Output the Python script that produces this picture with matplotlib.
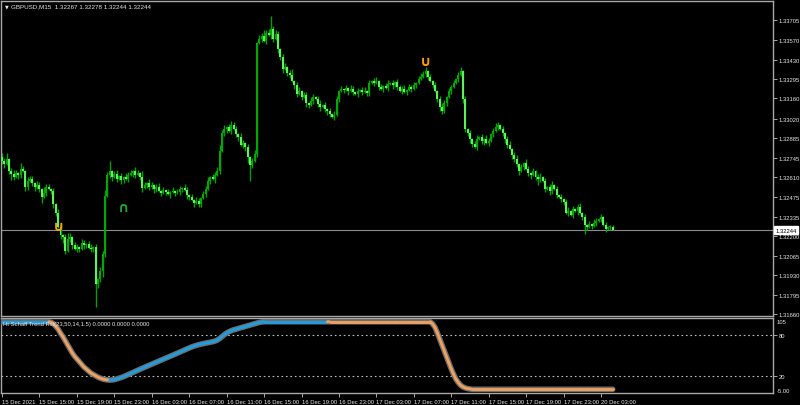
"""GBPUSD M15 chart with Schaff Trend RSI sub-window (MT4 style)."""
import matplotlib
matplotlib.use("Agg")
import matplotlib.pyplot as plt
import matplotlib.transforms as mtransforms
from matplotlib.collections import LineCollection
import numpy as np

# ── Data ──────────────────────────────────────────────────────────────────
first_open = 1.32750
close = [
    1.32725, 1.32704, 1.32738, 1.32655, 1.32634, 1.32613, 1.32641, 1.32627, 1.32669, 1.32655,
    1.32543, 1.32585, 1.32599, 1.32571, 1.32543, 1.32557, 1.32530, 1.32474, 1.32502, 1.32543,
    1.32530, 1.32516, 1.32425, 1.32363, 1.32265, 1.32209, 1.32196, 1.32098, 1.32182, 1.32196,
    1.32140, 1.32112, 1.32126, 1.32112, 1.32154, 1.32140, 1.32147, 1.32119, 1.32112, 1.32126,
    1.31868, 1.31903, 1.31959, 1.32077, 1.32481, 1.32627, 1.32655, 1.32613, 1.32634, 1.32599,
    1.32620, 1.32592, 1.32613, 1.32599, 1.32627, 1.32641, 1.32655, 1.32627, 1.32641, 1.32613,
    1.32537, 1.32557, 1.32571, 1.32543, 1.32557, 1.32530, 1.32543, 1.32516, 1.32502, 1.32523,
    1.32509, 1.32495, 1.32509, 1.32516, 1.32502, 1.32509, 1.32530, 1.32537, 1.32523, 1.32488,
    1.32474, 1.32453, 1.32432, 1.32446, 1.32425, 1.32467, 1.32495, 1.32530, 1.32585, 1.32613,
    1.32599, 1.32627, 1.32655, 1.32794, 1.32919, 1.32947, 1.32961, 1.32933, 1.32975, 1.32947,
    1.32912, 1.32892, 1.32836, 1.32850, 1.32822, 1.32752, 1.32697, 1.32725, 1.32773, 1.33546,
    1.33574, 1.33595, 1.33560, 1.33615, 1.33601, 1.33643, 1.33574, 1.33608, 1.33504, 1.33448,
    1.33365, 1.33379, 1.33337, 1.33323, 1.33281, 1.33253, 1.33191, 1.33212, 1.33170, 1.33184,
    1.33128, 1.33114, 1.33142, 1.33170, 1.33156, 1.33121, 1.33100, 1.33114, 1.33086, 1.33072,
    1.33052, 1.33031, 1.33045, 1.33156, 1.33212, 1.33226, 1.33219, 1.33233, 1.33212, 1.33226,
    1.33205, 1.33191, 1.33212, 1.33219, 1.33205, 1.33212, 1.33198, 1.33267, 1.33281, 1.33267,
    1.33281, 1.33240, 1.33226, 1.33246, 1.33233, 1.33260, 1.33267, 1.33253, 1.33274, 1.33240,
    1.33212, 1.33226, 1.33205, 1.33219, 1.33240, 1.33226, 1.33253, 1.33267, 1.33295, 1.33309,
    1.33330, 1.33351, 1.33309, 1.33281, 1.33253, 1.33212, 1.33156, 1.33100, 1.33072, 1.33128,
    1.33170, 1.33212, 1.33240, 1.33267, 1.33295, 1.33323, 1.33351, 1.33156, 1.32947, 1.32919,
    1.32878, 1.32843, 1.32822, 1.32878, 1.32892, 1.32864, 1.32878, 1.32850, 1.32864, 1.32912,
    1.32933, 1.32961, 1.32975, 1.32947, 1.32919, 1.32878, 1.32836, 1.32808, 1.32766, 1.32738,
    1.32704, 1.32655, 1.32683, 1.32711, 1.32669, 1.32641, 1.32627, 1.32655, 1.32613, 1.32599,
    1.32613, 1.32585, 1.32530, 1.32543, 1.32516, 1.32557, 1.32530, 1.32488, 1.32474, 1.32460,
    1.32439, 1.32363, 1.32377, 1.32349, 1.32390, 1.32377, 1.32404, 1.32363, 1.32335, 1.32279,
    1.32265, 1.32286, 1.32272, 1.32293, 1.32307, 1.32321, 1.32335, 1.32279, 1.32251, 1.32265,
    1.32267, 1.32244,
]
# wick length beyond the body, in pips
wick_up = [
    3, 2, 4, 1, 2, 3, 2, 1, 4, 2, 1, 3, 2, 2, 1, 3, 2, 1, 4, 2,
    2, 1, 2, 1, 3, 2, 1, 2, 4, 3, 1, 2, 2, 1, 3, 2, 1, 2, 3, 1,
    2, 1, 3, 2, 4, 2, 7, 1, 2, 3, 1, 2, 1, 3, 2, 2, 1, 3, 2, 1,
    4, 2, 1, 3, 2, 1, 2, 3, 1, 2, 1, 2, 1, 3, 1, 2, 2, 1, 3, 2,
    1, 2, 1, 3, 2, 1, 2, 2, 3, 1, 2, 2, 3, 4, 2, 3, 1, 2, 3, 2,
    2, 1, 3, 2, 1, 2, 1, 2, 3, 1, 3, 2, 4, 2, 3, 9, 2, 3, 2, 1,
    2, 3, 1, 2, 4, 1, 2, 3, 1, 2, 2, 1, 3, 2, 1, 2, 3, 1, 2, 1,
    2, 1, 3, 2, 1, 2, 1, 2, 1, 3, 2, 1, 2, 1, 2, 3, 1, 2, 1, 2,
    3, 1, 2, 1, 2, 3, 1, 2, 1, 2, 1, 2, 3, 1, 2, 1, 2, 1, 2, 3,
    2, 3, 1, 2, 1, 2, 1, 2, 3, 2, 1, 2, 1, 2, 1, 2, 3, 1, 2, 1,
    2, 1, 2, 3, 1, 2, 1, 3, 2, 1, 2, 3, 2, 1, 2, 1, 2, 3, 1, 2,
    3, 1, 2, 1, 3, 2, 1, 2, 1, 2, 3, 1, 2, 1, 2, 3, 1, 2, 1, 2,
    1, 2, 3, 1, 2, 1, 2, 3, 1, 2, 1, 2, 1, 3, 2, 1, 2, 1, 2, 1, 1, 1.1,
]
wick_dn = [
    2, 3, 1, 2, 4, 2, 1, 3, 2, 1, 3, 2, 1, 2, 3, 1, 2, 4, 1, 2,
    1, 2, 3, 2, 1, 3, 4, 2, 1, 2, 3, 1, 2, 2, 1, 3, 2, 1, 2, 2,
    16, 3, 2, 4, 2, 1, 2, 3, 1, 2, 1, 3, 2, 1, 2, 1, 3, 2, 1, 2,
    3, 1, 2, 2, 1, 3, 2, 1, 2, 1, 2, 1, 3, 1, 2, 1, 2, 2, 1, 3,
    2, 1, 3, 1, 2, 2, 1, 2, 1, 2, 1, 3, 1, 2, 1, 2, 3, 1, 2, 1,
    2, 3, 1, 2, 3, 4, 11, 2, 1, 2, 1, 2, 1, 2, 1, 3, 2, 1, 3, 2,
    3, 1, 2, 2, 1, 3, 2, 1, 2, 1, 3, 2, 1, 2, 1, 2, 3, 1, 2, 3,
    2, 1, 2, 1, 2, 1, 2, 1, 3, 1, 2, 1, 2, 1, 2, 1, 2, 2, 1, 2,
    1, 2, 1, 2, 1, 2, 1, 3, 1, 2, 1, 2, 1, 2, 1, 2, 1, 2, 1, 1,
    1, 2, 2, 1, 2, 1, 2, 3, 2, 1, 2, 1, 2, 1, 1, 2, 1, 3, 2, 2,
    3, 2, 1, 2, 1, 2, 3, 1, 2, 1, 2, 1, 2, 1, 2, 3, 2, 1, 3, 2,
    2, 3, 1, 2, 1, 2, 3, 1, 2, 4, 2, 1, 2, 1, 3, 2, 1, 2, 1, 2,
    2, 1, 2, 1, 2, 1, 3, 1, 2, 6, 2, 1, 2, 1, 2, 1, 2, 1, 2, 1, 2, 0,
]

# Schaff Trend RSI values, one per bar
stc = ([100.0] * 21
       + [99, 97, 93, 89, 83, 78, 72, 66, 60, 54, 49, 45, 41, 37, 33,
          30, 27, 24, 22, 20, 18, 16.5, 15.2, 14.4, 13.9, 13.6]
       + [13.8, 14.3, 15.2, 16.3, 17.5, 18.8, 20.3, 21.8, 23.4, 25,
          26.6, 28.2, 29.7, 31.2, 32.8, 34.3, 35.8, 37.3, 38.8, 40.3,
          41.8, 43.3, 44.8, 46.2, 47.6, 49, 50.5, 52, 53.5, 55,
          56.6, 58.2, 59.7, 61.2, 62.6, 63.9, 65, 66, 66.8, 67.6,
          68.3, 69, 69.7, 70.4, 71.3, 72.8, 75, 78, 80.8, 83.3,
          85.2, 86.8, 88, 89, 90, 91, 92, 93, 94, 95,
          96, 97, 98, 99, 99.6]
       + [100.0] * 28
       + [99.9] * 44
       + [97, 92, 84, 75, 66, 57, 48, 39, 30, 22, 15, 10, 6, 3.5, 2, 1, 0.5]
       + [0.0] * 61)

# signal arrows (bar index, price)
sell_bars = [24, 181]
sell_prices = [1.32272, 1.33421]
buy_bars = [52]
buy_prices = [1.32404]

price_ticks = [1.33705, 1.33570, 1.33430, 1.33295, 1.33160, 1.33020, 1.32885, 1.32745,
               1.32610, 1.32475, 1.32335, 1.32200, 1.32065, 1.31930, 1.31795, 1.31660]
time_tick_bars = [0, 16, 32, 48, 64, 80, 96, 112, 128, 144, 160, 176, 192, 208, 224, 240, 256]
time_labels = ["15 Dec 2021", "15 Dec 15:00", "15 Dec 19:00", "15 Dec 23:00",
               "16 Dec 03:00", "16 Dec 07:00", "16 Dec 11:00", "16 Dec 15:00",
               "16 Dec 19:00", "16 Dec 23:00", "17 Dec 03:00", "17 Dec 07:00",
               "17 Dec 11:00", "17 Dec 15:00", "17 Dec 19:00", "17 Dec 23:00",
               "20 Dec 03:00"]
last_price = 1.32244

# ── Palette ───────────────────────────────────────────────────────────────
BG = "#000000"
FRAME = "#A8A8A8"
TXT = "#E6E6E6"
WICK = "#00A000"
BULL = "#00A800"
BEAR = "#5CF25C"
BLUE = "#1E9EE0"
ORANGE = "#EFA05E"
FONT = ["Liberation Sans", "DejaVu Sans"]
FS = 4.2

# ── Canvas ────────────────────────────────────────────────────────────────
W, H = 800, 406
fig = plt.figure(figsize=(W / 100, H / 100), dpi=100)
fig.patch.set_facecolor(BG)


def px_axes(x0, y0, x1, y1):
    return fig.add_axes([x0 / W, 1 - y1 / H, (x1 - x0) / W, (y1 - y0) / H])


ax = px_axes(1, 2, 773, 317)
sub = px_axes(1, 319, 773, 394)

for a in (ax, sub):
    a.set_facecolor(BG)
    for s in a.spines.values():
        s.set_color(FRAME)
        s.set_linewidth(1.0)
    a.set_xlim(-0.43, 329.5)

# ── Candles ───────────────────────────────────────────────────────────────
c = np.array(close)
o = np.r_[first_open, c[:-1]]
top = np.maximum(o, c)
bot = np.minimum(o, c)
hi = top + np.array(wick_up) * 1e-4
lo = bot - np.array(wick_dn) * 1e-4
x = np.arange(len(c))
colors = np.where(c >= o, BULL, BEAR)

ax.axhline(last_price, color="#8C8C8C", lw=0.8, zorder=1)
ax.vlines(x, lo, hi, color=WICK, lw=1.0, zorder=2)
ax.bar(x, np.maximum(top - bot, 0.00004), bottom=bot, width=0.85,
       color=colors, linewidth=0, zorder=3)

# signal arrows
for b, p in zip(sell_bars, sell_prices):
    ax.text(b, p, "\u222a", color="#FFA000", fontsize=10, fontweight="bold",
            ha="center", va="center", family="DejaVu Sans", zorder=5)
for b, p in zip(buy_bars, buy_prices):
    ax.text(b, p, "\u2229", color="#20A030", fontsize=10, fontweight="bold",
            ha="center", va="center", family="DejaVu Sans", zorder=5)

ax.set_ylim(1.31646, 1.33838)
ax.set_xticks([])
ax.yaxis.tick_right()
ax.set_yticks(price_ticks)
ax.set_yticklabels([f"{p:.5f}" for p in price_ticks])
ax.tick_params(axis="y", direction="out", length=3, width=0.7, pad=1.2,
               colors=FRAME, labelcolor=TXT, labelsize=FS)
for t in ax.get_yticklabels():
    t.set_family(FONT)

# last price tag
trans = mtransforms.blended_transform_factory(ax.transAxes, ax.transData)
ax.text(1.003, last_price, f"{last_price:.5f}", transform=trans, fontsize=FS,
        family=FONT, color="#000000", va="center", ha="left", zorder=6,
        bbox=dict(boxstyle="square,pad=0.2", facecolor="#FFFFFF",
                  edgecolor="#FFFFFF"), clip_on=False)

# header
fig.text(5 / W, 1 - 6.5 / H, "\u25bc", color=TXT, fontsize=3.5, va="center",
         family="DejaVu Sans")
fig.text(11 / W, 1 - 6.5 / H, "GBPUSD,M15  1.32267 1.32278 1.32244 1.32244",
         color=TXT, fontsize=FS + 0.3, va="center", family=FONT)

# ── Schaff Trend RSI ──────────────────────────────────────────────────────
v = np.array(stc, dtype=float)
trend = []
cur = 1
for i in range(len(v)):
    if i > 0 and v[i] > v[i - 1]:
        cur = 1
    elif i > 0 and v[i] < v[i - 1]:
        cur = -1
    trend.append(cur)

sub.plot(x, v, color="#6E6E6E", lw=4.0, solid_capstyle="round", zorder=3)
segs = [[(i - 1, v[i - 1]), (i, v[i])] for i in range(1, len(v))]
seg_cols = [BLUE if trend[i] > 0 else ORANGE for i in range(1, len(v))]
sub.add_collection(LineCollection(segs, colors=seg_cols, linewidths=2.0,
                                  capstyle="round", zorder=4))

for lvl in (80, 20):
    sub.axhline(lvl, color="#BDBDBD", lw=0.8, ls=(0, (1.5, 2.5)), zorder=1)

sub.set_ylim(-5.5, 105.5)
sub.yaxis.tick_right()
sub.set_yticks([80, 20])
sub.set_yticklabels(["80", "20"])
sub.tick_params(axis="y", direction="out", length=3, width=0.7, pad=1.2,
                colors=FRAME, labelcolor=TXT, labelsize=FS)
for t in sub.get_yticklabels():
    t.set_family(FONT)
strans = mtransforms.blended_transform_factory(sub.transAxes, sub.transData)
sub.text(1.005, 104.5, "105", transform=strans, fontsize=FS, family=FONT,
         color=TXT, va="top", ha="left", clip_on=False)
sub.text(1.005, -5.2, "-5.00", transform=strans, fontsize=FS, family=FONT,
         color=TXT, va="bottom", ha="left", clip_on=False)

sub.text(2 / 772, 0.93, "Ht Schaff Trend Rsi(23,50,14,1.5) 0.0000 0.0000 0.0000",
         transform=sub.transAxes, fontsize=FS, family=FONT, color=TXT,
         va="center", ha="left", zorder=5)

sub.set_xticks(time_tick_bars)
sub.set_xticklabels(time_labels, ha="left")
sub.tick_params(axis="x", direction="out", length=3, width=0.7, pad=1.5,
                colors=FRAME, labelcolor=TXT, labelsize=FS)
for t in sub.get_xticklabels():
    t.set_family(FONT)

fig.savefig("out.png", dpi=100, facecolor=BG)
plt.close(fig)
